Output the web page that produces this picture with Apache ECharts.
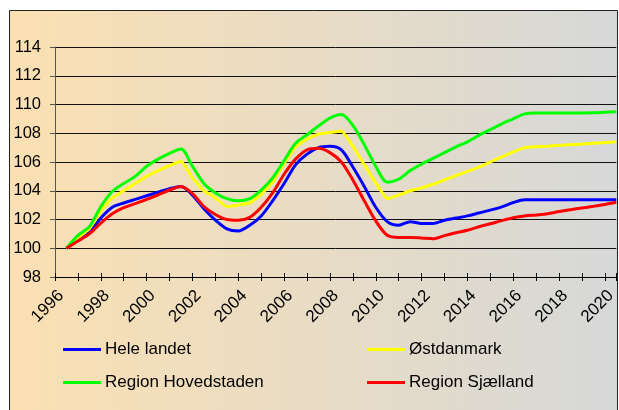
<!DOCTYPE html>
<html>
<head>
<meta charset="utf-8">
<script src="https://cdn.jsdelivr.net/npm/echarts@6/dist/echarts.min.js"></script>
<style>
  html, body { margin: 0; padding: 0; background: #fff; }
  #chart { width: 619px; height: 410px; }
</style>
</head>
<body>
<div id="chart"></div>
<script>
// halvårlige observationer
const years = [1996.5, 1997, 1997.5, 1998, 1998.5, 1999, 1999.5, 2000, 2000.5, 2001, 2001.5, 2002,
  2002.5, 2003, 2003.5, 2004, 2004.5, 2005, 2005.5, 2006, 2006.5, 2007, 2007.5, 2008,
  2008.5, 2009, 2009.5, 2010, 2010.5, 2011, 2011.5, 2012, 2012.5, 2013, 2013.5, 2014,
  2014.5, 2015, 2015.5, 2016, 2016.5, 2017, 2017.5, 2018, 2018.5, 2019, 2019.5, 2020, 2020.5]

const heleLandet = [100, 100.6, 101.1, 102.1, 102.85, 103.15, 103.4, 103.65, 103.9, 104.15, 104.3, 103.7,
  102.75, 101.95, 101.35, 101.2, 101.6, 102.25, 103.3, 104.5, 105.8, 106.55, 107.0, 107.1,
  106.85, 105.65, 104.3, 102.85, 101.85, 101.6, 101.85, 101.72, 101.72, 101.95, 102.1, 102.25,
  102.45, 102.65, 102.88, 103.18, 103.38, 103.38, 103.38, 103.38, 103.38, 103.38, 103.38, 103.38, 103.38]

const oestdanmark = [100, 100.7, 101.35, 102.6, 103.5, 104.0, 104.5, 105.0, 105.4, 105.75, 106.05, 104.9,
  104.0, 103.5, 102.9, 103.0, 103.15, 103.75, 104.6, 105.9, 107.05, 107.6, 107.95, 108.05,
  108.15, 107.1, 105.8, 104.55, 103.45, 103.7, 104.0, 104.2, 104.45, 104.75, 105.05, 105.35,
  105.65, 106.0, 106.35, 106.7, 107.0, 107.06, 107.1, 107.15, 107.2, 107.25, 107.3, 107.35, 107.4]

const hovedstaden = [100, 100.9, 101.5, 102.9, 103.95, 104.5, 105.0, 105.7, 106.2, 106.6, 106.9, 105.7,
  104.5, 103.85, 103.45, 103.3, 103.45, 104.05, 104.9, 106.1, 107.3, 107.9, 108.5, 109.05,
  109.3, 108.55, 107.2, 105.7, 104.6, 104.8, 105.4, 105.85, 106.25, 106.65, 107.05, 107.4,
  107.85, 108.25, 108.65, 109.0, 109.35, 109.41, 109.41, 109.41, 109.41, 109.41, 109.42, 109.46, 109.5]

const sjaelland = [100, 100.5, 101.0, 101.75, 102.4, 102.82, 103.1, 103.4, 103.72, 104.05, 104.3, 103.8,
  102.9, 102.35, 102.0, 101.95, 102.15, 102.85, 103.85, 105.15, 106.2, 106.85, 106.95, 106.65,
  106.0, 104.75, 103.3, 101.9, 100.9, 100.75, 100.75, 100.72, 100.66, 100.88, 101.08, 101.25,
  101.5, 101.7, 101.92, 102.12, 102.25, 102.32, 102.4, 102.55, 102.68, 102.8, 102.92, 103.05, 103.2]

const seriesNames = ['Hele landet', 'Østdanmark', 'Region Hovedstaden', 'Region Sjælland']
const seriesColors = ['#0000ff', '#ffff00', '#00ff00', '#ff0000']
const seriesValues = [heleLandet, oestdanmark, hovedstaden, sjaelland]
const seriesSmooth = [0.3, 0.12, 0.3, 0.3]

const font = 'Liberation Sans, Arial, sans-serif'

const chart = echarts.init(document.getElementById('chart'))

const legendBase = {
  orient: 'vertical',
  top: 341,
  padding: 0,
  icon: 'rect',
  itemWidth: 38,
  itemHeight: 3,
  itemGap: 16,
  textStyle: { fontFamily: font, fontSize: 17, color: '#000', lineHeight: 16, padding: [0, 0, 0, -1] }
}

const option = {
  animation: false,
  graphic: [{
    type: 'rect',
    z: -10,
    shape: { x: 9.5, y: 10.5, width: 608, height: 440 },
    style: {
      fill: new echarts.graphic.LinearGradient(0, 0, 1, 0, [
        { offset: 0, color: '#fbe0b2' },
        { offset: 1, color: '#d6d8d8' }
      ]),
      stroke: '#222',
      lineWidth: 1
    }
  }],
  grid: {
    left: 55,
    top: 47,
    right: 1,
    bottom: 133
  },
  legend: [
    Object.assign({}, legendBase, { left: 63, data: ['Hele landet', 'Region Hovedstaden'] }),
    Object.assign({}, legendBase, { left: 367, data: ['Østdanmark', 'Region Sjælland'] })
  ],
  xAxis: [{
    type: 'value',
    min: 1996,
    max: 2020.5,
    interval: 1,
    axisLine: { lineStyle: { color: '#000', width: 1 } },
    axisTick: { length: 4, lineStyle: { color: '#000' } },
    splitLine: { show: false },
    axisLabel: {
      rotate: 45,
      margin: 10,
      verticalAlign: 'top',
      color: '#000',
      fontFamily: font,
      fontSize: 17,
      formatter: function (v) {
        return (v % 2 === 0) ? String(v) : ''
      }
    }
  }, {
    // kryds-ticks: samme akse med ticks indad
    type: 'value',
    position: 'bottom',
    min: 1996,
    max: 2020.5,
    interval: 1,
    axisLine: { show: false },
    axisTick: { inside: true, length: 4, lineStyle: { color: '#000' } },
    axisLabel: { show: false },
    splitLine: { show: false }
  }],
  yAxis: {
    type: 'value',
    min: 98,
    max: 114,
    interval: 2,
    axisLine: { show: true, lineStyle: { color: '#555' } },
    axisTick: { show: true, length: 5, lineStyle: { color: '#555' } },
    splitLine: { lineStyle: { color: '#111', width: 1 } },
    axisLabel: {
      margin: 14,
      color: '#000',
      fontFamily: font,
      fontSize: 16.5
    }
  },
  series: seriesNames.map((name, i) => ({
    name: name,
    type: 'line',
    smooth: seriesSmooth[i],
    symbol: 'none',
    lineStyle: { color: seriesColors[i], width: 3 },
    itemStyle: { color: seriesColors[i] },
    data: years.map((y, j) => [y, seriesValues[i][j]])
  }))
}

chart.setOption(option)
window.addEventListener('resize', () => {
  chart.resize()
})
</script>
</body>
</html>
